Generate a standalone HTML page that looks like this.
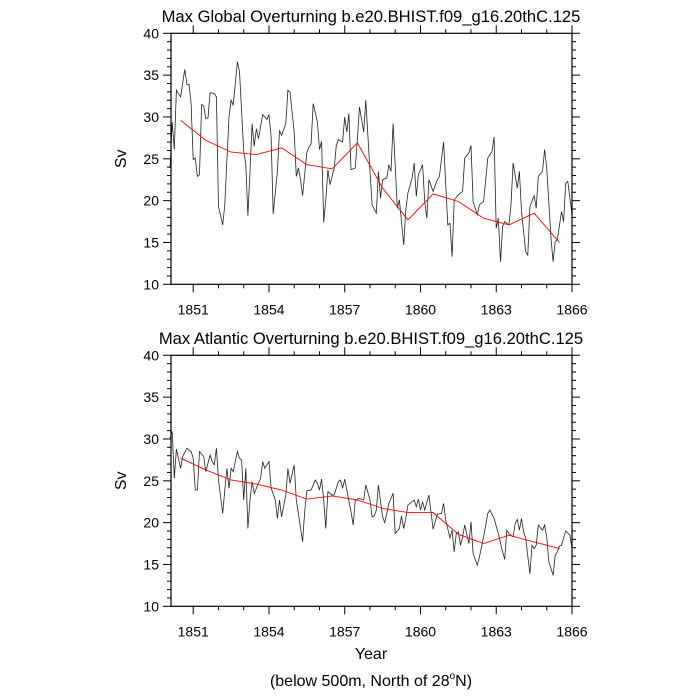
<!DOCTYPE html>
<html><head><meta charset="utf-8"><style>
body{margin:0;background:#fff;}
svg{display:block;font-family:"Liberation Sans",sans-serif;}
</style></head><body>
<svg id="chart" width="700" height="700" viewBox="0 0 700 700">
<text x="371" y="22" font-size="16.6" text-anchor="middle">Max Global Overturning b.e20.BHIST.f09_g16.20thC.125</text>
<text x="371" y="344" font-size="16.6" text-anchor="middle">Max Atlantic Overturning b.e20.BHIST.f09_g16.20thC.125</text>
<text x="371" y="659" font-size="16" text-anchor="middle">Year</text>
<text x="371" y="686" font-size="16" text-anchor="middle">(below 500m, North of 28<tspan font-size="10" dy="-7">o</tspan><tspan dy="7">N)</tspan></text>
<g id="top"></g>
<g id="bot"></g>
</svg>
<script>
const yTicks=[10,15,20,25,30,35,40];
const xTickYears=[1851,1854,1857,1860,1863,1866];
// global: time in months since Jan 1850, values Sv
const gT=[1,2,3,4,6,8,9,10,11,12,13,14,15,16,17,18,19,20,22,23,24,26,27,29,30,31,33,34,36,37,38,39,40,41,42,43,45,46,47,48,49,50,52,53,54,56,57,58,60,61,62,63,64,66,67,68,69,71,72,73,74,75,76,77,79,80,81,83,84,85,86,87,89,90,91,93,94,96,97,99,100,101,102,104,105,106,107,108,109,110,112,113,114,116,117,118,119,121,122,123,124,126,128,129,131,133,134,135,136,138,140,141,143,144,145,147,148,150,152,154,155,156,157,158,159,160,162,163,164,166,167,168,170,171,172,174,175,176,178,179,180,182,183,184,185,187,188,189,190,192];
const gV=[23.9,29.4,26.1,33.2,32.4,35.7,33.9,33.9,31.6,24.9,25.1,22.9,23.1,31.5,31.3,29.8,29.9,32.9,32.8,32.4,19.3,17.1,19.5,30.0,32.0,31.4,36.6,35.4,26.0,24.3,18.2,23.5,29.2,26.5,28.6,27.4,30.3,30.0,29.7,30.3,27.6,18.4,23.5,28.4,27.8,29.2,33.2,33.0,28.2,22.9,23.9,22.5,20.6,25.8,26.4,26.8,31.6,29.4,26.1,27.1,17.4,20.1,23.7,21.9,23.9,26.6,27.3,27.0,30.0,28.2,30.4,23.7,23.9,27.4,31.2,28.2,32.0,23.5,19.5,18.5,23.5,20.3,22.5,22.7,24.3,23.5,29.2,24.3,19.1,20.1,14.7,18.9,20.9,22.7,24.5,20.5,23.1,24.3,19.9,17.9,22.5,21.1,22.5,22.9,27.0,17.1,17.3,13.3,20.1,20.7,21.1,25.1,25.7,26.6,19.9,18.3,19.5,19.9,25.1,25.9,27.6,16.7,17.9,12.7,16.9,17.5,17.1,19.5,24.5,21.5,23.5,18.7,13.9,13.5,19.3,20.6,19.1,22.9,23.5,26.1,23.9,15.5,12.7,15.1,15.3,18.7,17.5,22.1,22.3,18.3];
const annualYears=[1850.5,1851.5,1852.5,1853.5,1854.5,1855.5,1856.5,1857.5,1858.5,1859.5,1860.5,1861.5,1862.5,1863.5,1864.5,1865.5];
const gAnnual=[29.6,27.2,25.8,25.5,26.3,24.3,23.8,26.9,21.5,17.7,20.8,19.9,17.9,17.1,18.5,15.0];
// atlantic
const aT=[1,2,3,4,6,7,9,11,12,13,14,15,17,18,20,21,22,23,24,26,27,28,29,30,31,33,34,35,36,37,38,39,40,41,44,45,46,48,49,51,52,53,54,56,57,58,60,61,62,64,65,66,68,70,71,72,73,74,75,76,78,79,81,82,83,84,85,87,88,89,91,93,94,96,97,98,99,100,102,103,105,107,108,110,111,112,113,114,117,118,119,120,121,122,124,126,128,130,131,132,134,135,136,137,138,139,140,141,143,144,145,147,148,150,152,153,155,157,159,160,161,162,164,165,166,167,168,169,170,172,173,174,175,176,178,179,180,181,183,184,185,186,187,189,191,192];
const aV=[30.1,30.9,25.3,28.8,26.5,27.9,28.9,28.5,27.7,23.9,23.9,28.5,27.9,26.1,28.1,27.3,26.9,28.9,25.1,21.1,23.9,26.5,24.1,26.5,26.1,28.5,27.7,27.5,22.7,26.5,19.3,22.7,24.9,23.5,25.3,27.3,26.5,27.3,24.1,22.7,20.5,22.7,20.7,23.3,26.5,24.7,26.9,22.7,21.1,17.7,21.5,23.8,23.9,25.1,24.7,23.9,25.2,22.7,19.3,23.7,23.3,23.3,24.9,25.1,24.1,25.2,23.9,21.3,19.7,22.7,22.9,22.7,24.5,22.7,20.7,20.8,21.5,24.5,20.7,20.0,22.3,23.5,18.7,19.3,20.8,19.3,20.5,22.1,22.7,21.9,22.8,21.5,22.5,21.5,23.3,19.2,21.0,21.1,22.3,20.3,18.2,19.1,16.5,18.7,18.9,17.3,18.3,19.7,17.5,20.1,16.3,14.9,15.9,18.3,21.1,21.5,20.5,18.7,16.5,15.6,19.1,18.7,18.3,19.9,20.4,19.1,20.5,18.9,18.1,13.9,17.3,16.9,17.3,19.7,19.1,19.7,18.3,15.3,13.7,16.1,16.5,17.2,17.3,19.0,18.5,16.9];
const aAnnual=[27.7,26.3,25.1,24.6,23.9,22.8,23.2,22.7,21.7,21.2,21.2,18.6,17.5,18.5,17.7,16.9];

const NS='http://www.w3.org/2000/svg';
const L=171,R=572,X0=1850.12,X1=1866;
function mk(tag,attrs,parent){const e=document.createElementNS(NS,tag);for(const k in attrs)e.setAttribute(k,attrs[k]);parent.appendChild(e);return e;}
function panel(g,top,times,vals,annual,prefix){
  const bot=top+251;
  const sx=yr=>L+(yr-X0)/(X1-X0)*(R-L);
  const sy=v=>bot-(v-10)/30*(bot-top);
  for(let v=10;v<=40;v++){
    const maj=v%5===0,len=maj?8:4;
    const t1=mk('line',{x1:L-len,x2:L,y1:sy(v),y2:sy(v),stroke:'#000','stroke-width':1},g);
    
    
    const t2=mk('line',{x1:R,x2:R+len,y1:sy(v),y2:sy(v),stroke:'#000','stroke-width':1},g);
    
    
  }
  for(let yr=1851;yr<=1866;yr++){
    const maj=(yr-1851)%3===0,len=maj?8:4;
    const t1=mk('line',{x1:sx(yr),x2:sx(yr),y1:bot,y2:bot+len,stroke:'#000','stroke-width':1},g);
    
    
    const t2=mk('line',{x1:sx(yr),x2:sx(yr),y1:top-len,y2:top,stroke:'#000','stroke-width':1},g);
    
    
  }
  yTicks.forEach(v=>{const t=mk('text',{x:L-12,y:sy(v)+5,'font-size':14,'text-anchor':'end'},g);t.textContent=v;
    
    });
  xTickYears.forEach(yr=>{const t=mk('text',{x:sx(yr),y:bot+30,'font-size':14,'text-anchor':'middle'},g);t.textContent=yr;
    
    });
  const yl=mk('text',{x:0,y:0,'font-size':16,'text-anchor':'middle',transform:`translate(126,${(top+bot)/2}) rotate(-90)`},g);yl.textContent='Sv';
  
  
  const mp=times.map((t,i)=>sx(1850+t/12).toFixed(1)+','+sy(vals[i]).toFixed(1)).join(' ');
  const ml=mk('polyline',{points:mp,fill:'none',stroke:'#222','stroke-width':0.8},g);
  
  
  const ap=annualYears.map((y,i)=>sx(y).toFixed(1)+','+sy(annual[i]).toFixed(1)).join(' ');
  const al=mk('polyline',{points:ap,fill:'none',stroke:'#f00','stroke-width':0.9},g);
  
  
  const fr=mk('rect',{x:L,y:top,width:R-L,height:bot-top,fill:'none',stroke:'#000','stroke-width':1.2},g);
  
  
}
panel(document.getElementById('top'),33.3,gT,gV,gAnnual,'global');
panel(document.getElementById('bot'),355.3,aT,aV,aAnnual,'atlantic');
</script>
</body></html>
